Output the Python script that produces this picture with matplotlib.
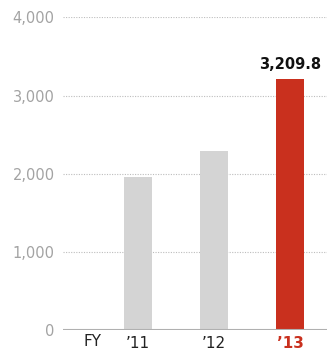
import matplotlib.pyplot as plt

# fiscal-year values
years = ["\u201911", "\u201912", "\u201913"]
values = [1962, 2290, 3209.8]
bar_colors = ["#d4d4d4", "#d4d4d4", "#c9301e"]
yticks = [0, 1000, 2000, 3000, 4000]
ytick_labels = ["0", "1,000", "2,000", "3,000", "4,000"]

plt.rcParams["font.family"] = ["DejaVu Sans"]

fig = plt.figure(figsize=(3.27, 3.54), dpi=100)
ax = fig.add_axes([63 / 327, 24 / 354, 264 / 327, (330 - 17.4) / 354])

x = [1, 2, 3]
ax.bar(x, values, width=0.37, color=bar_colors, zorder=3)

ax.set_ylim(0, 4000)
ax.set_xlim(0.013, 3.487)

# dotted grid lines, solid baseline
for v in yticks[1:]:
    ax.axhline(v, color="#bdbdbd", lw=0.8, ls=(0, (1, 1.3)), zorder=1)
ax.axhline(0, color="#b0b0b0", lw=1.5, zorder=4)

ax.set_yticks(yticks)
ax.set_yticklabels(ytick_labels, color="#a3a3a3", fontsize=10.5)
ax.tick_params(axis="y", length=0, pad=6)

ax.set_xticks(x)
ax.set_xticklabels(years, fontsize=11, color="#222222")
ax.tick_params(axis="x", length=0, pad=4)
last = ax.get_xticklabels()[-1]
last.set_color("#c9301e")
last.set_fontweight("bold")

ax.text(0.40, -0.0125, "FY", transform=ax.get_xaxis_transform(), ha="center", va="top",
        fontsize=11, color="#222222")

ax.text(3, values[-1] + 90, f"{values[-1]:,.1f}", ha="center", va="bottom",
        fontsize=10.5, fontweight="bold", color="#111111")

for s in ax.spines.values():
    s.set_visible(False)

fig.savefig("out.png", dpi=100)
